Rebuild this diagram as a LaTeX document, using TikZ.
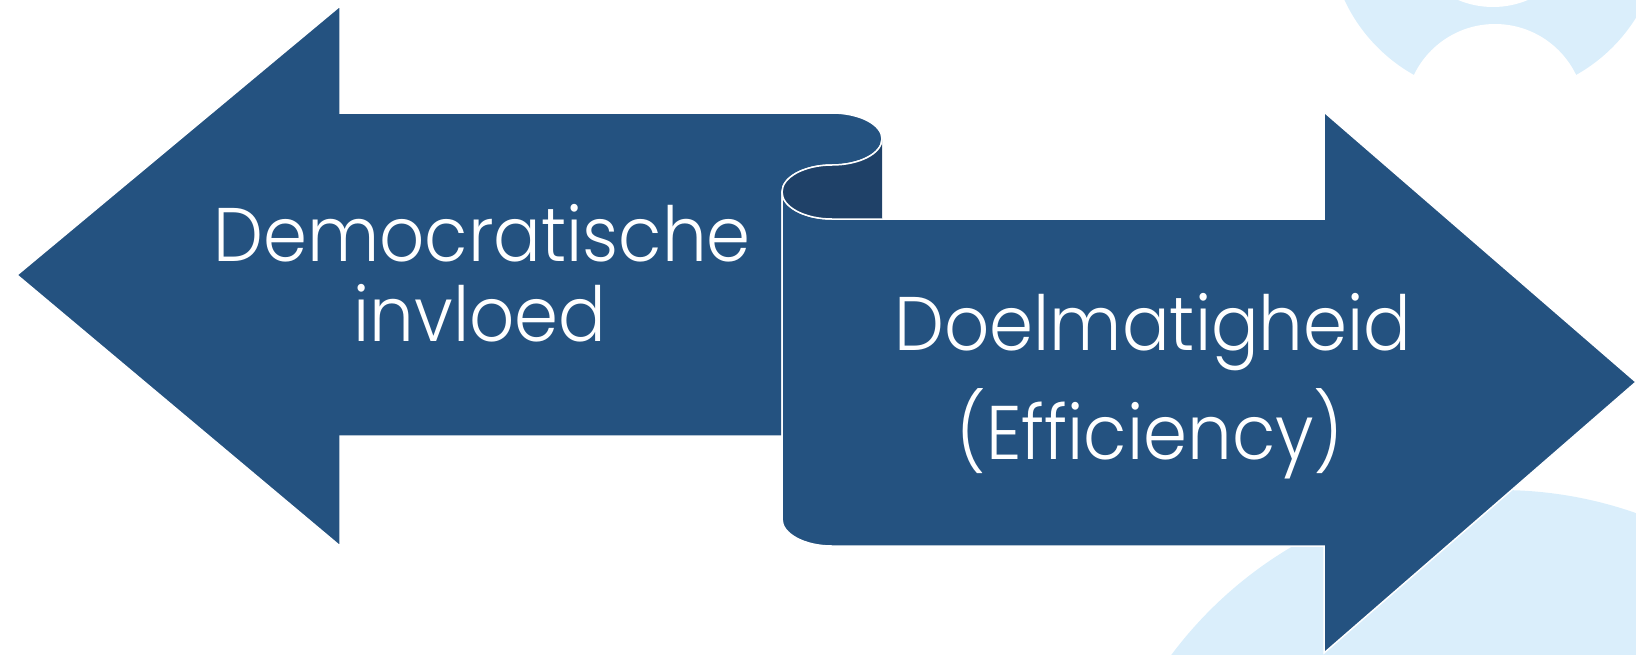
\documentclass[tikz,border=0pt]{standalone}
\usepackage{fontspec}
\setmainfont{Poppins Light}[FakeStretch=0.93]
\definecolor{mainblue}{HTML}{245280}
\definecolor{darkblue}{HTML}{1F4168}
\definecolor{lightblue}{HTML}{DAEEFB}
\tikzset{
  arrowshape/.style={fill=mainblue, draw=white, line width=1.5pt, line join=miter},
  curlshape/.style={fill=darkblue},
  curlline/.style={draw=white, line width=1.5pt},
  bgshape/.style={fill=lightblue},
  cutshape/.style={fill=white},
  label/.style={text=white, font=\fontsize{76}{84}\selectfont, anchor=base, inner sep=0pt}
}
\begin{document}
\begin{tikzpicture}[x=1pt,y=-1pt]
\useasboundingbox (0,0) rectangle (1636,654);
% background decorations
\begin{scope}
\clip (0,0) rectangle (1636,654);
\fill[bgshape] (1495,-70) circle[radius=166];
\fill[cutshape] (1495,114) circle[radius=90];
\fill[cutshape] (1493,-83) circle[radius=90];
\fill[bgshape] (1500,900) circle[radius=410];
\end{scope}
% left arrow with top of scroll
\path[arrowshape] (17,275) -- (340,6) -- (340,113) -- (832,113)
  .. controls (859.6,113) and (882,124.6) .. (882,139)
  .. controls (882,153.4) and (859.6,165) .. (832,165)
  .. controls (804.4,165) and (782,177.1) .. (782,192)
  -- (782,436) -- (340,436) -- (340,546) -- cycle;
% right arrow
\path[arrowshape] (782,192) -- (782,519)
  .. controls (782,533.9) and (804.4,546) .. (832,546)
  -- (1324,546) -- (1324,653) -- (1636,382) -- (1324,112) -- (1324,219) -- (832,219)
  .. controls (804.4,219) and (782,206.9) .. (782,192) -- cycle;
% curl
\fill[curlshape] (882,139)
  .. controls (882,153.4) and (859.6,165) .. (832,165)
  .. controls (804.4,165) and (782,177.1) .. (782,192)
  .. controls (782,206.9) and (804.4,219) .. (832,219)
  -- (882,219) -- cycle;
\draw[curlline] (882,139)
  .. controls (882,153.4) and (859.6,165) .. (832,165)
  .. controls (804.4,165) and (782,177.1) .. (782,192)
  .. controls (782,206.9) and (804.4,219) .. (832,219) -- (882,219);
% texts
\node[label] (l1) at (482,261) {Democratische};
\node[label] (l2) at (480,341) {invloed};
\node[label] (r1) at (1153,350) {Doelmatigheid};
\node[label] (r2) at (1150,459) {(Efficiency)};
\end{tikzpicture}
\end{document}
